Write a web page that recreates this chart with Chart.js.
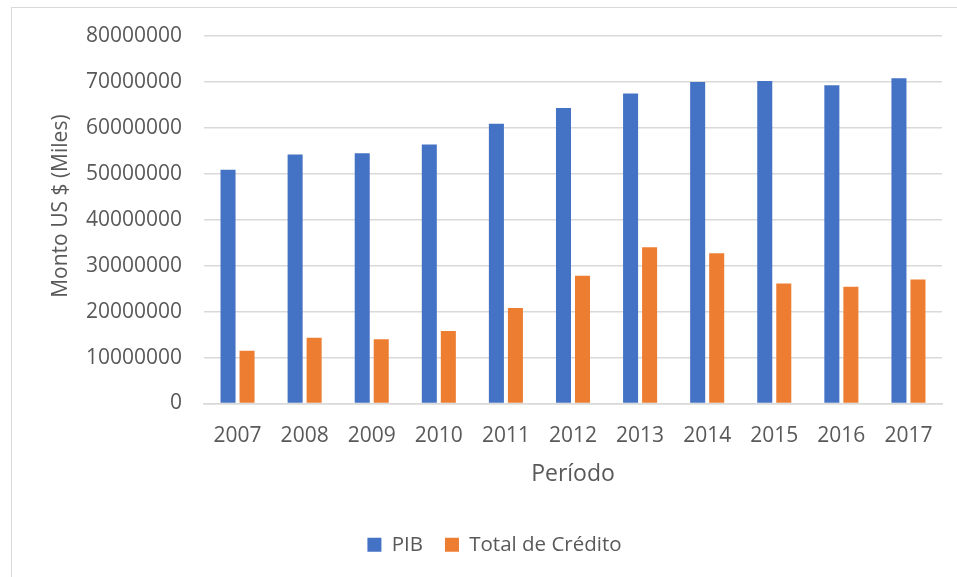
<!DOCTYPE html>
<html>
<head>
<meta charset="utf-8">
<script src="https://cdn.jsdelivr.net/npm/chart.js@4"></script>
<style>
  html, body { margin: 0; padding: 0; background: #fff; }
  #wrap { position: relative; width: 957px; height: 577px; }
  #frame { position: absolute; left: 11px; top: 7px; width: 960px; height: 590px; border: 1px solid #d9d9d9; }
  canvas { position: absolute; left: 0; top: 0; }
</style>
</head>
<body>
<div id="wrap">
  <div id="frame"></div>
  <canvas id="grafico" width="957" height="577"></canvas>
</div>
<script>
// datos
var periodos = ["2007", "2008", "2009", "2010", "2011", "2012", "2013", "2014", "2015", "2016", "2017"];
var pib = [50900000, 54200000, 54500000, 56400000, 60900000, 64300000, 67500000, 70000000, 70200000, 69300000, 70800000];
var credito = [11500000, 14300000, 14000000, 15800000, 20800000, 27800000, 34000000, 32700000, 26100000, 25400000, 27000000];

var gris = "#595959";
var fuente = "'Open Sans', sans-serif";
// espacios al inicio para subir un poco el título (como en Excel)
var tituloY = "\u00A0\u00A0\u00A0\u00A0\u00A0Monto US $ (Miles)";

var ctx = document.getElementById("grafico").getContext("2d");
var grafico = new Chart(ctx, {
  type: "bar",
  data: {
    labels: periodos,
    datasets: [
      { label: "PIB", data: pib, backgroundColor: "#4472C4", barPercentage: 0.79, categoryPercentage: 0.567 },
      { label: "Total de Crédito", data: credito, backgroundColor: "#ED7D31", barPercentage: 0.79, categoryPercentage: 0.567 },
    ],
  },
  options: {
    responsive: false,
    animation: false,
    // padding izquierdo grande para que la leyenda quede centrada como en el original
    layout: { padding: { left: 47, right: 15, top: 36, bottom: 12 } },
    plugins: {
      tooltip: { enabled: false },
      legend: {
        position: "bottom",
        labels: {
          color: gris,
          font: { family: fuente, size: 20.5 },
          boxWidth: 14,
          boxHeight: 14,
          padding: 22,
        },
      },
    },
    scales: {
      x: {
        grid: { display: false, drawTicks: false },
        border: { color: "#d9d9d9", width: 1.5 },
        ticks: { color: gris, font: { family: fuente, size: 21 }, padding: 20, maxRotation: 0 },
        title: { display: true, text: "Período", color: gris, font: { family: fuente, size: 23 }, padding: { top: 0, bottom: 24 } },
        afterFit: function (scale) { scale.height = 109; },
      },
      y: {
        min: 0,
        max: 80000000,
        ticks: { stepSize: 10000000, color: gris, font: { family: fuente, size: 21 }, padding: 22,
          callback: function (v) { return String(v); } },
        grid: { color: "#d9d9d9", lineWidth: 1.5, drawTicks: false },
        border: { display: false },
        title: { display: true, text: tituloY, color: gris, font: { family: fuente, size: 21 }, padding: { top: 1, bottom: 0 } },
        afterFit: function (scale) { scale.width = 157; },
      },
    },
  },
});
</script>
</body>
</html>
